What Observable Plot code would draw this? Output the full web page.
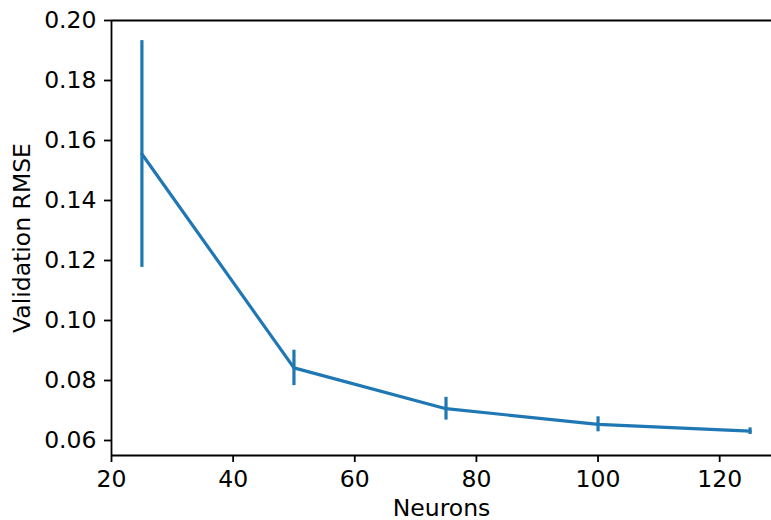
<!DOCTYPE html>
<html>
<head>
<meta charset="utf-8">
<script src="https://cdn.jsdelivr.net/npm/d3@7"></script>
<script src="https://cdn.jsdelivr.net/npm/@observablehq/plot@0.6"></script>
<style>
  html, body { margin: 0; padding: 0; background: #fff; }
  #chart svg { display: block; }
  #chart svg text { font-size: 23.5px; }
</style>
</head>
<body>
<div id="chart"></div>
<script>
const neurons = [25, 50, 75, 100, 125];
const rmse = [0.1555, 0.0842, 0.0706, 0.0654, 0.0631];
const err = [0.0378, 0.0059, 0.0038, 0.0025, 0.0011];
const xTicks = [20, 40, 60, 80, 100, 120];
const yTicks = [0.06, 0.08, 0.10, 0.12, 0.14, 0.16, 0.18, 0.20];

const data = neurons.map((n, i) => ({n, v: rmse[i], lo: rmse[i] - err[i], hi: rmse[i] + err[i]}));
const blue = "#1f77b4";

const chart = Plot.plot({
  width: 771,
  height: 520,
  marginLeft: 111,
  marginTop: 20,
  marginBottom: 65,
  marginRight: 0,
  style: {fontFamily: "DejaVu Sans", fontSize: "23.5px", color: "#000", background: "#fff"},
  x: {domain: [20, 130], range: [111, 780]},
  y: {domain: [0.055, 0.20], range: [455, 20]},
  marks: [
    Plot.line(data, {x: "n", y: "v", stroke: blue, strokeWidth: 3.2}),
    Plot.ruleX(data, {x: "n", y1: "lo", y2: "hi", stroke: blue, strokeWidth: 3.2}),
    Plot.ruleY([0.055], {stroke: "#000", strokeWidth: 1.8}),
    Plot.ruleY([0.20], {stroke: "#000", strokeWidth: 1.8}),
    Plot.ruleX([20], {stroke: "#000", strokeWidth: 1.8}),
    Plot.axisX({ticks: xTicks, tickSize: 7, tickPadding: 8, strokeWidth: 1.8,
      label: "Neurons", labelAnchor: "center", labelArrow: "none", labelOffset: 60}),
    Plot.axisY({ticks: yTicks, tickSize: 7, tickPadding: 8, strokeWidth: 1.8,
      tickFormat: d3.format(".2f"),
      label: "Validation RMSE", labelAnchor: "center", labelArrow: "none", labelOffset: 98})
  ]
});
document.getElementById("chart").appendChild(chart);
</script>
</body>
</html>
